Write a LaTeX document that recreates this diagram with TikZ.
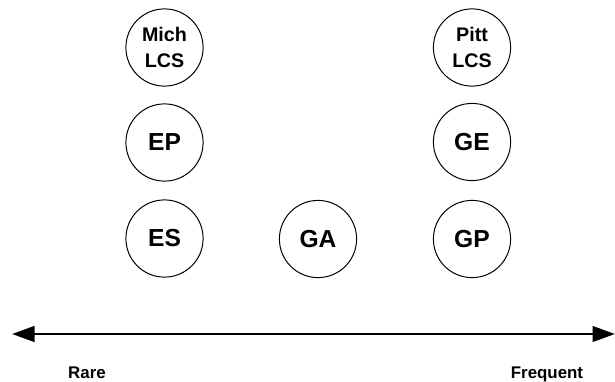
\documentclass[tikz,border=0pt]{standalone}
\usepackage{fontspec}
\setmainfont{Liberation Sans}
\usetikzlibrary{arrows.meta}
\definecolor{ink}{HTML}{000000}

\tikzset{
  method/.style={circle, draw=ink, line width=0.7pt, minimum size=1.93cm,
    inner sep=0pt, align=center, font=\bfseries\fontsize{17.5pt}{19pt}\selectfont},
  lcs/.style={method, font=\bfseries\fontsize{14pt}{18.5pt}\selectfont},
  scale label/.style={anchor=base, text=ink, font=\bfseries\fontsize{12pt}{14pt}\selectfont}
}

\begin{document}
\begin{tikzpicture}[x=0.025cm, y=-0.025cm]
    \useasboundingbox (0, 0) rectangle (615, 381);

    % left column
    \node[lcs]    (mich) at (164.5, 47.5) {Mich\\LCS};
    \node[method] (ep)   at (164.5, 142.5) {EP};
    \node[method] (es)   at (164.5, 238.5) {ES};
    % middle
    \node[method] (ga)   at (318, 239) {GA};
    % right column
    \node[lcs]    (pitt) at (472, 47.5) {Pitt\\LCS};
    \node[method] (ge)   at (472, 142) {GE};
    \node[method] (gp)   at (472, 239) {GP};

    % frequency axis
    \coordinate (rare end) at (12, 334);
    \coordinate (freq end) at (615, 334);
    \draw[ink, line width=2.1pt, {Triangle[length=16pt, width=11pt]}-{Triangle[length=16pt, width=11pt]}]
      (rare end) -- (freq end);

    \node[scale label] (rare) at (87, 378) {Rare};
    \node[scale label] (freq) at (547, 378) {Frequent};
  \end{tikzpicture}
\end{document}
